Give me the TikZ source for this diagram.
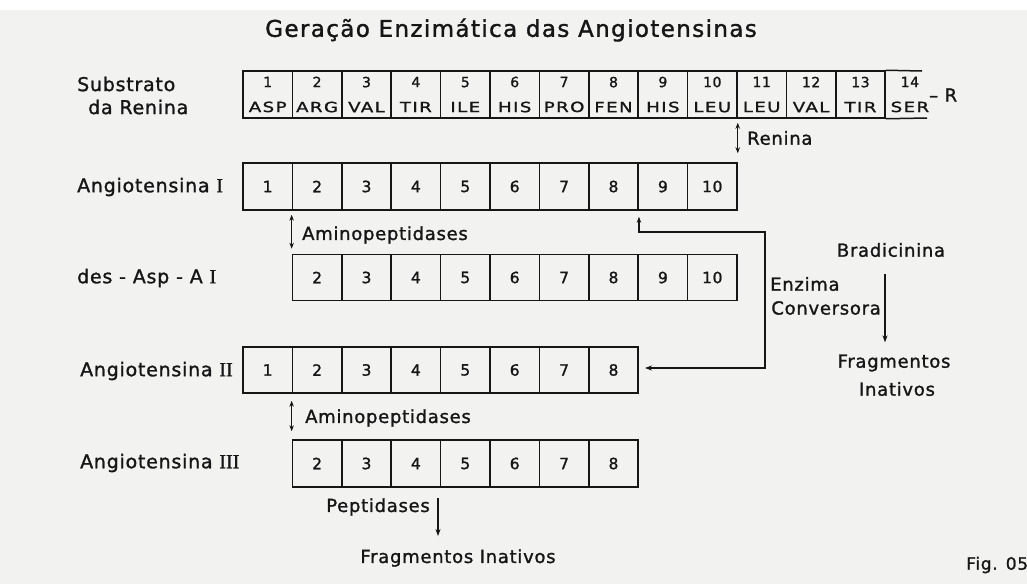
\documentclass[tikz,border=0pt]{standalone}
\usepackage{fontspec}
\setmainfont{DejaVu Sans}
\newfontfamily\df[LetterSpace=4,FakeBold=1.3]{DejaVu Sans}
\newfontfamily\dtitle[LetterSpace=6,FakeBold=1.4]{DejaVu Sans}
\newfontfamily\dab[LetterSpace=10,FakeStretch=1.3,FakeBold=1.4]{DejaVu Sans}
\newfontfamily\rn[FakeBold=1.2]{Liberation Serif}
\usetikzlibrary{arrows.meta,calc}
\definecolor{bg}{HTML}{F2F2F0}
\definecolor{ink}{HTML}{161616}
\tikzset{
  cell/.style={draw=ink, line width=1.5pt, minimum width=49.4pt, minimum height=46pt,
    inner sep=0pt, text=ink, font=\df\fontsize{15.5}{15.5}\selectfont},
  scell/.style={cell, minimum height=47pt, align=center, font=\df\fontsize{14}{25}\selectfont},
  lab/.style={anchor=west, inner sep=0pt, text=ink, font=\df\fontsize{19}{19}\selectfont},
  rlab/.style={inner sep=0pt, text=ink, font=\df\fontsize{18}{18}\selectfont},
  arr/.style={line width=1.4pt, draw=ink, -{Stealth[length=7pt,width=5pt]}},
  darr/.style={line width=1.4pt, draw=ink, {Stealth[length=6pt,width=4.5pt]}-{Stealth[length=6pt,width=4.5pt]}},
  plain/.style={line width=1.5pt, draw=ink}
}
\newcommand\rom[1]{{\rn\fontsize{20}{20}\selectfont #1}}
\begin{document}
\begin{tikzpicture}[x=1pt,y=-1pt]
\useasboundingbox (0,0) rectangle (1027,584);
\fill[bg] (0,10) rectangle (1027,584);
\fill[white] (0,0) rectangle (1027,10);

% title
\node[inner sep=0pt, text=ink, font=\dtitle\fontsize{23}{23}\selectfont] (title) at (511,30) {Geração Enzimática das Angiotensinas};

% left labels
\node[lab] (lsub1) at (77,84) {Substrato};
\node[lab] (lsub2) at (88,107) {da Renina};
\node[lab] (la1) at (77,187) {Angiotensina \rom{I}};
\node[lab] (ldes) at (77,278) {des - Asp - A \rom{I}};
\node[lab] (la2) at (80,371) {Angiotensina \rom{II}};
\node[lab] (la3) at (80,463) {Angiotensina \rom{III}};

% substrate row
\foreach \i/\t in {1/ASP,2/ARG,3/VAL,4/TIR,5/ILE,6/HIS,7/PRO,8/FEN,9/HIS,10/LEU,11/LEU,12/VAL,13/TIR}
  \node[scell] (s-\i) at ({243+(\i-0.5)*49.4},94.5) {\i\\{\dab \t}};
\node[scell, draw=none] (s-14) at ({243+13.5*49.4},94.5) {14\\{\dab SER}};
\coordinate (stop) at (922,71);
\coordinate (sbot) at (927,118);
\draw[plain] (s-13.north east) -- (stop);
\draw[plain] (s-13.south east) -- (sbot);
\node[rlab, anchor=west] (r) at (929,95) {– R};

% Angiotensina I
\foreach \i in {1,...,10}
  \node[cell, minimum height=47pt] (a1-\i) at ({243+(\i-0.5)*49.4},186.5) {\i};
% des-Asp-A I
\foreach \i in {2,...,10}
  \node[cell] (d-\i) at ({243+(\i-0.5)*49.4},277.5) {\i};
% Angiotensina II
\foreach \i in {1,...,8}
  \node[cell] (a2-\i) at ({243+(\i-0.5)*49.4},370) {\i};
% Angiotensina III
\foreach \i in {2,...,8}
  \node[cell, minimum height=47pt] (a3-\i) at ({243+(\i-0.5)*49.4},463.5) {\i};

% Renina
\draw[darr, shorten <=4pt, shorten >=9pt] (s-10.south east) -- (a1-10.north east);
\node[rlab, anchor=west] (ren) at (747,138) {Renina};

% Aminopeptidases 1
\draw[darr, shorten <=4pt, shorten >=5pt] (a1-2.south west) -- (d-2.north west);
\node[rlab, anchor=west] (amp1) at (302,235) {Aminopeptidases};

% Aminopeptidases 2
\draw[darr, shorten <=7pt, shorten >=8pt] (a2-2.south west) -- (a3-2.north west);
\node[rlab, anchor=west] (amp2) at (305,418) {Aminopeptidases};

% Enzima conversora
\coordinate (ec1) at (765,232);
\coordinate (ec2) at (765,368);
\draw[line width=1.4pt, draw=ink, {Stealth[length=6pt,width=4.5pt]}-{Stealth[length=7pt,width=5pt]}]
  ($(a1-8.south east)+(0,6)$) |- (ec1) -- (ec2) -- ($(a2-8.east)+(6,-2)$);
\node[rlab, anchor=west] (enz) at (770,284) {Enzima};
\node[rlab, anchor=east] (conv) at (881,308) {Conversora};

% Bradicinina
\node[rlab] (brad) at (891,250) {Bradicinina};
\node[rlab] (frag1) at (894,363) {Fragmentos};
\node[rlab] (inat1) at (897,389) {Inativos};
\draw[arr] ($(brad.south)+(-6,17)$) -- ($(frag1.north)+(-9,-12)$);

% Peptidases
\node[rlab, anchor=east] (pep) at (430,507) {Peptidases};
\node[rlab] (frag2) at (458,558) {Fragmentos Inativos};
\draw[arr] ($(pep.east)+(8,-9)$) -- ($(frag2.north)+(-20,-13)$);

% figure number
\node[inner sep=0pt, anchor=west, text=ink, font=\df\fontsize{17}{17}\selectfont] (fig) at (966,565) {Fig. 05};
\end{tikzpicture}
\end{document}
